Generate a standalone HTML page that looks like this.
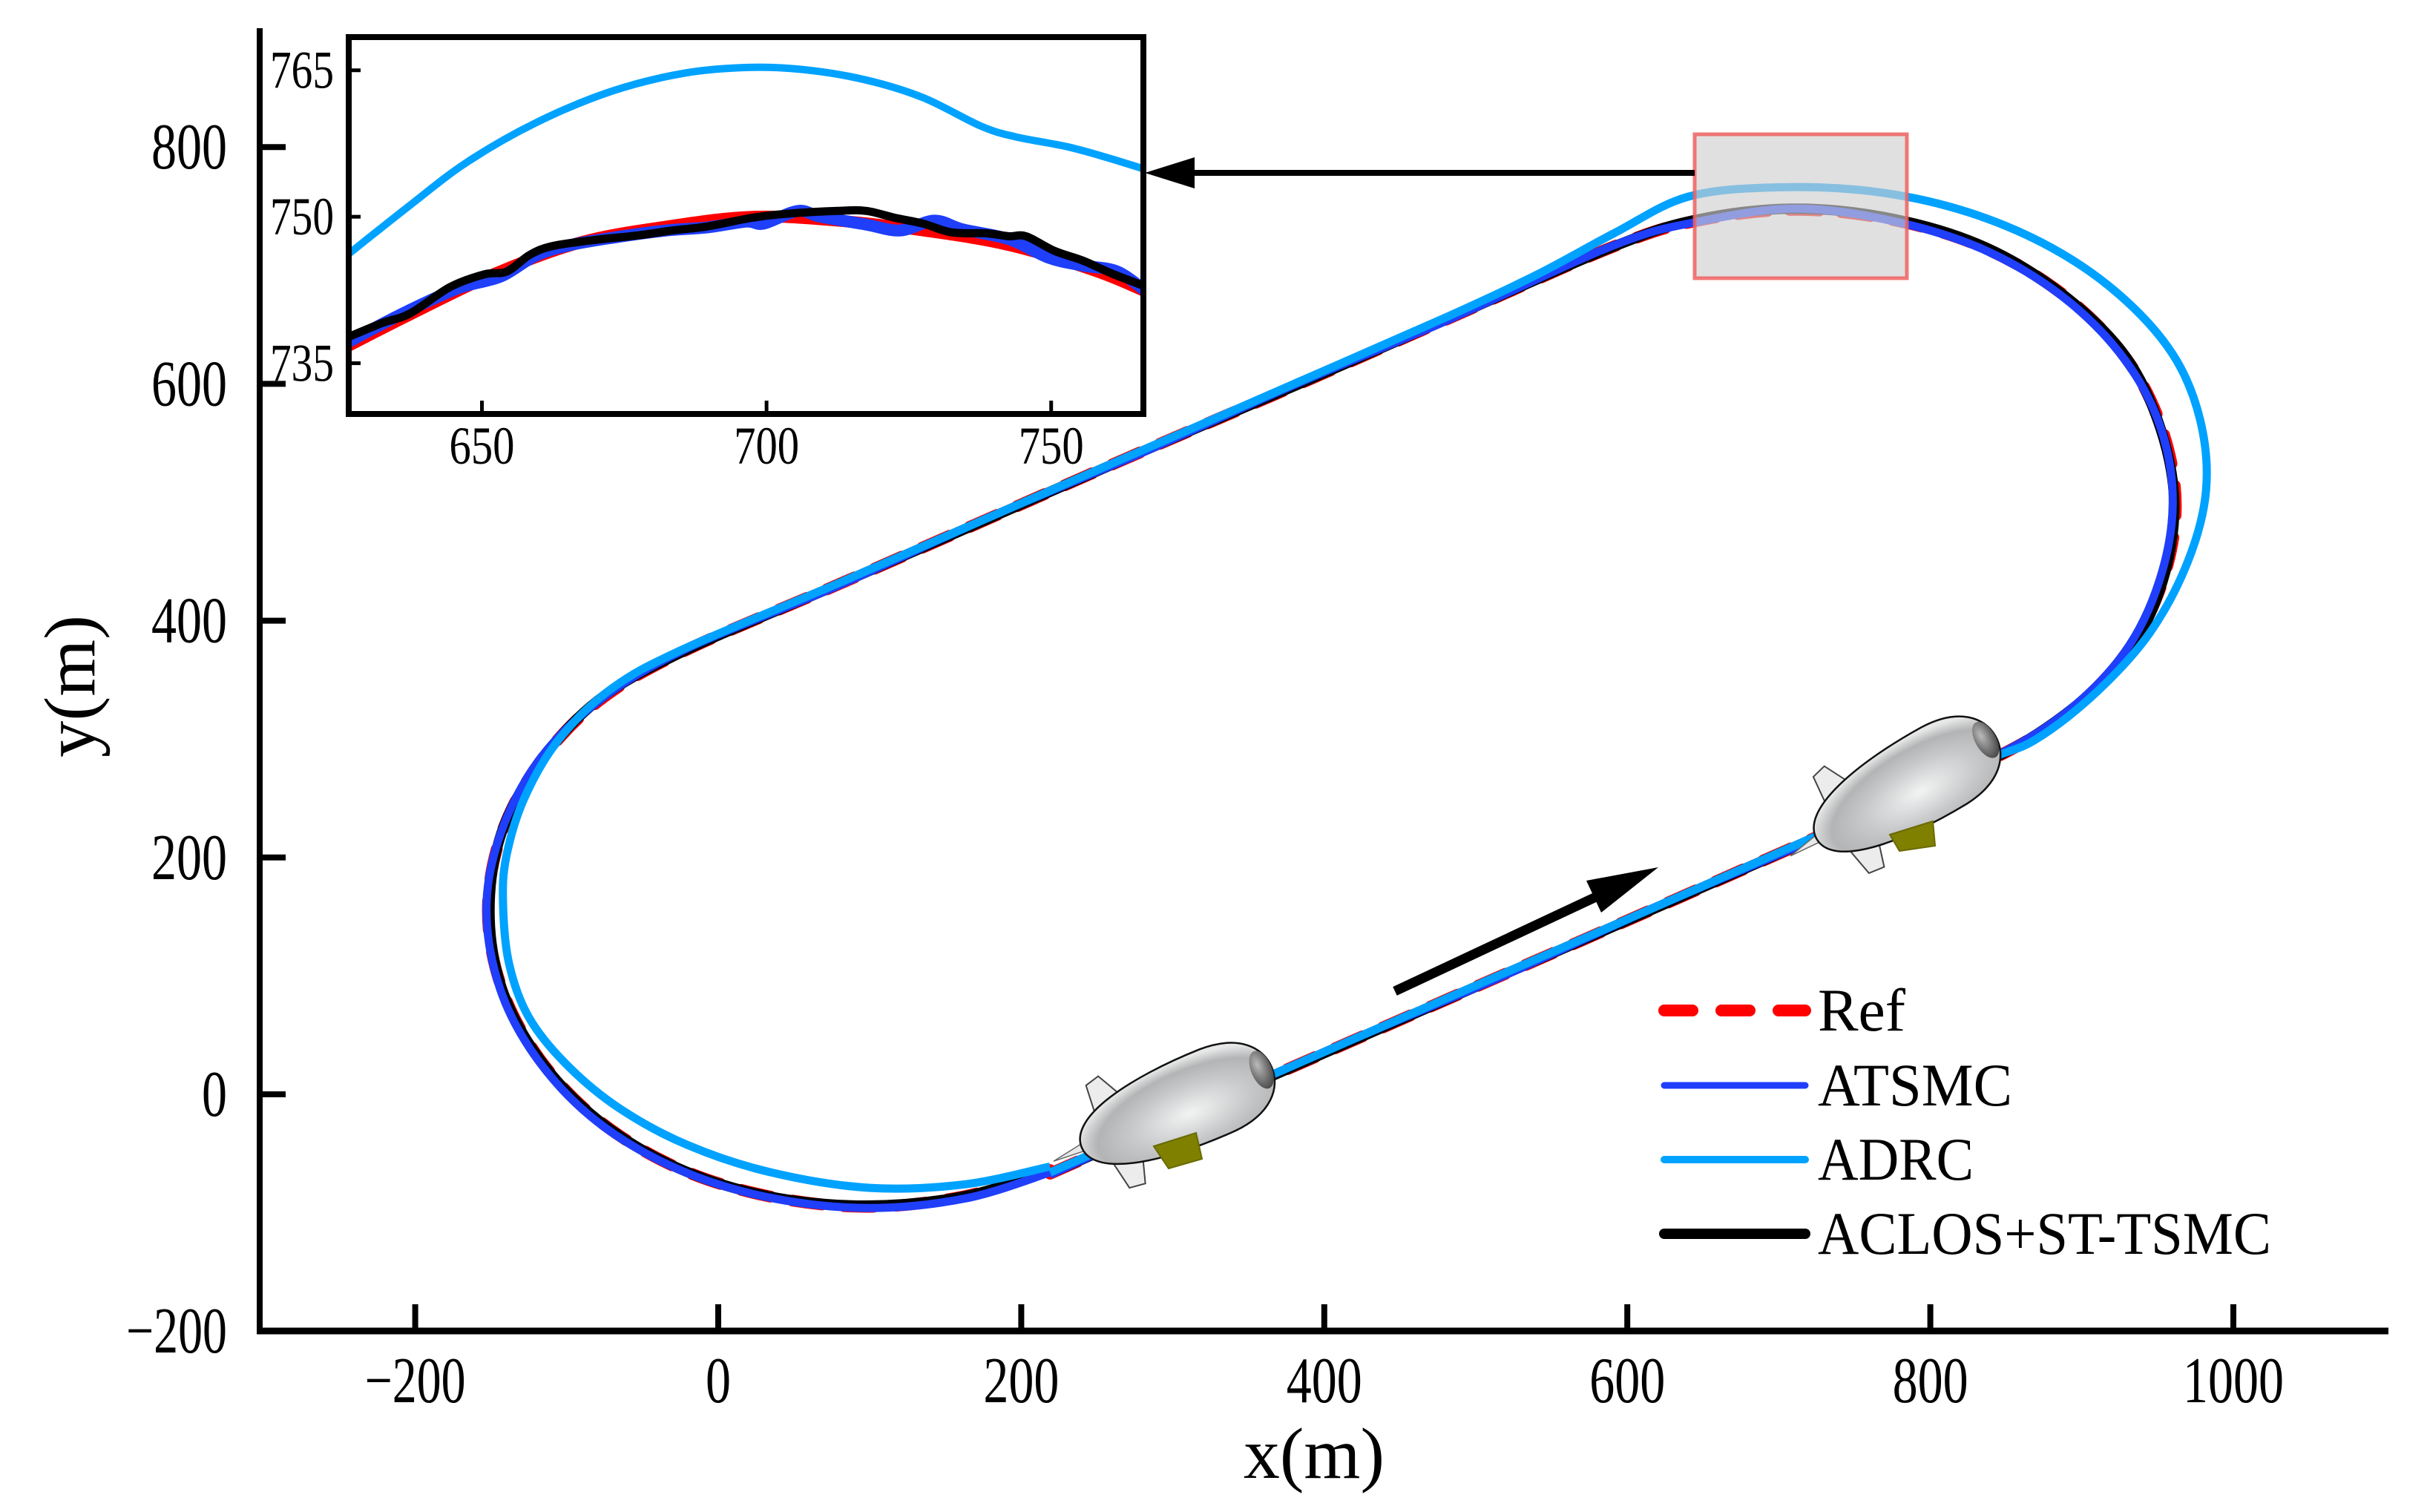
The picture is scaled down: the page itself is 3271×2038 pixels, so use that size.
<!DOCTYPE html>
<html><head><meta charset="utf-8"><style>
html,body{margin:0;padding:0;background:#fff}
svg{display:block}
text{font-family:"Liberation Serif",serif;fill:#000}
</style></head><body>
<svg id="chart" width="3271" height="2038" viewBox="0 0 3271 2038" xmlns="http://www.w3.org/2000/svg">
<defs>
<radialGradient id="bodyGrad" cx="0.55" cy="0.62" r="0.6">
<stop offset="0" stop-color="#f2f3f3"/><stop offset="0.5" stop-color="#c8c9ca"/><stop offset="0.8" stop-color="#b3b4b5"/><stop offset="1" stop-color="#e6e7e7"/>
</radialGradient>
<radialGradient id="noseGrad" cx="0.4" cy="0.35" r="0.7"><stop offset="0" stop-color="#bbb"/><stop offset="1" stop-color="#444"/></radialGradient>
<clipPath id="insetClip"><rect x="470" y="50" width="1071" height="508"/></clipPath>
<clipPath id="mainClip"><rect x="350" y="30" width="2880" height="1766"/></clipPath>
<g id="blimpBody">
<path d="M-105,-20 L-100,-75 L-80,-80 L-62,-45 Z" fill="#ececec" stroke="#444" stroke-width="2"/>
<path d="M-110,20 L-100,75 L-78,78 L-66,40 Z" fill="#ececec" stroke="#444" stroke-width="2"/>
<path d="M-180,2 L-118,-8 L-105,8 Z" fill="#e8e8e8" stroke="#666" stroke-width="1.5"/>
<path d="M-138,0 C-138,-45 -40,-62 60,-60 C115,-58 140,-30 140,0 C140,30 115,58 60,60 C-40,62 -138,45 -138,0 Z" fill="url(#bodyGrad)" stroke="#111" stroke-width="2.5"/>
<ellipse cx="126" cy="-2" rx="14" ry="27" fill="url(#noseGrad)"/>
</g>
</defs>
<g id="mainSeries" clip-path="url(#mainClip)"></g>
<g>
<use href="#blimpBody" transform="translate(1585,1493) rotate(-23)"/>
<path d="M1555,1545 L1612,1527 L1620,1562 L1575,1575 Z" fill="#808000" stroke="#6a6a00" stroke-width="2"/>
</g>
<g>
<use href="#blimpBody" transform="translate(2568,1062) rotate(-30)"/>
<path d="M2547,1125 L2605,1107 L2608,1140 L2560,1147 Z" fill="#808000" stroke="#6a6a00" stroke-width="2"/>
</g>
<rect x="2284" y="181" width="286" height="194" fill="#cfcfcf" fill-opacity="0.65" stroke="#f06060" stroke-opacity="0.85" stroke-width="5"/>
<g id="axes"></g>
<line x1="2284" y1="233" x2="1600" y2="233" stroke="#000" stroke-width="8"/>
<polygon points="1543,233 1610,212 1610,254" fill="#000"/>
<line x1="1880" y1="1336" x2="2170" y2="1200" stroke="#000" stroke-width="13"/>
<polygon points="2235,1169 2138,1187 2158,1230" fill="#000"/>
<g id="inset"></g>
<g id="legend">
<line x1="2243" y1="1362" x2="2433" y2="1362" stroke="#f00" stroke-width="16" stroke-linecap="round" stroke-dasharray="38 39"/>
<text x="2450" y="1389" font-size="82" textLength="118" lengthAdjust="spacingAndGlyphs">Ref</text>
<line x1="2243" y1="1463" x2="2433" y2="1463" stroke="#1f3ffb" stroke-width="9" stroke-linecap="round"/>
<text x="2450" y="1490" font-size="82" textLength="262" lengthAdjust="spacingAndGlyphs">ATSMC</text>
<line x1="2243" y1="1563" x2="2433" y2="1563" stroke="#00a2ff" stroke-width="10" stroke-linecap="round"/>
<text x="2450" y="1590" font-size="82" textLength="210" lengthAdjust="spacingAndGlyphs">ADRC</text>
<line x1="2243" y1="1663" x2="2433" y2="1663" stroke="#000" stroke-width="14" stroke-linecap="round"/>
<text x="2450" y="1690" font-size="82" textLength="611" lengthAdjust="spacingAndGlyphs">ACLOS+ST-TSMC</text>
</g>
</svg>
<script>
// ---- main chart data ----
const refX = [219,320,420,520,620,728,833,889,929,953,962,953,929,889,837,777,712,647,591,480,380,280,180,80,-23,-79,-118,-143,-152,-143,-118,-79,-27,33,98,163,219];
const refY = [-67,-10,46,102,158,219,278,320,372,432,497,562,622,674,714,738,747,738,716,654,598,543,487,431,374,332,280,220,155,90,30,-22,-62,-86,-95,-86,-64];
const atsmcX = [219,320,420,520,620,728,833,888,928,951,960,952,928,888,836,777,712,647,591,480,380,280,180,80,-23,-80,-119,-144,-153,-144,-119,-80,-27,33,98,163,219];
const atsmcY = [-68,-9,47,101,159,218,279,321,373,433,499,563,621,673,713,737,748,737,717,653,599,542,488,430,375,331,281,219,156,89,29,-23,-63,-87,-96,-88,-66];
const adrcX = [219,320,420,520,620,728,833,870,910,945,970,982,978,960,925,880,825,765,700,640,591,540,480,380,280,180,80,-23,-70,-105,-128,-140,-142,-138,-125,-100,-65,-20,35,100,163,219];
const adrcY = [-66,-9,47,103,159,220,280,300,340,390,450,510,570,625,675,715,745,762,766,758,727,692,656,600,544,488,432,376,343,300,250,200,160,110,65,25,-12,-43,-66,-79,-76,-61];
const aclosX = [219,320,420,520,620,728,833,889,930,953,961,952,929,889,837,777,712,647,591,480,380,280,180,80,-23,-79,-118,-143,-151,-143,-118,-79,-27,33,98,163,219];
const aclosY = [-67,-10,46,102,158,219,278,321,372,432,498,562,623,674,715,739,748,739,716,654,598,543,487,431,374,333,280,221,155,90,30,-22,-62,-86,-94,-86,-64];
const xTicks = [-200,0,200,400,600,800,1000];
const yTicks = [-200,0,200,400,600,800];
const xTickLabels = ["\u2212200","0","200","400","600","800","1000"];
const yTickLabels = ["\u2212200","0","200","400","600","800"];
// ---- inset data ----
const inRefX = [626.6,637.4,652.4,667.5,682.5,697.5,712.5,727.5,742.6,757.6,766.8];
const inRefY = [736.8,740.0,744.2,747.4,749.0,750.0,749.6,748.6,747.1,744.5,742.3];
const inAdrcX = [626.6,637.4,647.4,659.4,672.5,685.5,697.5,707.5,717.5,727.5,737.6,743.6,752.6,759.6,766.8];
const inAdrcY = [746.2,751.2,755.6,759.6,762.8,764.7,765.3,765.0,764.0,762.2,759.3,758.2,757.2,756.1,754.8];
const inAtsmcX = [626.6,633.4,640.4,646.4,653.4,659.4,665.5,673.5,682.5,689.5,696.5,699.5,705.5,709.5,717.5,723.5,729.5,734.5,742.6,749.6,755.6,761.6,766.8];
const inAtsmcY = [737.2,739.3,741.3,742.8,743.9,746.0,747.1,747.9,748.6,748.9,749.5,749.3,750.6,750.0,749.2,748.6,749.6,748.7,747.7,745.8,745.0,744.4,742.3];
const inAclosX = [626.6,632.4,637.4,644.4,650.4,654.4,658.4,662.4,669.5,677.5,683.5,689.5,697.5,703.5,712.5,717.5,722.5,727.5,732.5,738.6,742.6,745.6,750.6,755.6,760.6,766.8];
const inAclosY = [737.7,739.1,740.1,742.8,744.1,744.4,746.1,747.0,747.6,748.1,748.6,749.0,749.9,750.3,750.6,750.6,749.9,749.3,748.4,748.3,748.0,748.0,746.5,745.5,744.2,742.8];
const inXTicks = [650,700,750];
const inYTicks = [735,750,765];
const inXTickLabels = ["650","700","750"];
const inYTickLabels = ["735","750","765"];

const NS = "http://www.w3.org/2000/svg";
const X = x => 968 + 2.042 * x;
const Y = y => 1475 - 1.596 * y;
const IX = x => 470 + (x - 626.6) * (1071 / (766.2 - 626.6));
const IY = y => 50 + (768.4 - y) * (508 / (768.4 - 729.8));

function smoothPath(xs, ys, fx, fy) {
  const p = xs.map((x, i) => [fx(x), fy(ys[i])]);
  let d = "M" + p[0][0].toFixed(1) + "," + p[0][1].toFixed(1);
  for (let i = 0; i < p.length - 1; i++) {
    const p0 = p[Math.max(0, i - 1)], p1 = p[i], p2 = p[i + 1], p3 = p[Math.min(p.length - 1, i + 2)];
    const c1 = [p1[0] + (p2[0] - p0[0]) / 6, p1[1] + (p2[1] - p0[1]) / 6];
    const c2 = [p2[0] - (p3[0] - p1[0]) / 6, p2[1] - (p3[1] - p1[1]) / 6];
    d += " C" + c1[0].toFixed(1) + "," + c1[1].toFixed(1) + " " + c2[0].toFixed(1) + "," + c2[1].toFixed(1) + " " + p2[0].toFixed(1) + "," + p2[1].toFixed(1);
  }
  return d;
}
function mk(tag, parent, attrs) {
  const e = document.createElementNS(NS, tag);
  for (const k in attrs) e.setAttribute(k, attrs[k]);
  parent.appendChild(e);
  return e;
}
const ms = document.getElementById("mainSeries");
let e;
e = mk("path", ms, {d: smoothPath(refX, refY, X, Y), fill: "none", stroke: "#f00", "stroke-width": 16, "stroke-dasharray": "40 30", "stroke-linecap": "round"});


e = mk("path", ms, {d: smoothPath(aclosX, aclosY, X, Y), fill: "none", stroke: "#000", "stroke-width": 14});


e = mk("path", ms, {d: smoothPath(atsmcX, atsmcY, X, Y), fill: "none", stroke: "#1f3ffb", "stroke-width": 11});


e = mk("path", ms, {d: smoothPath(adrcX, adrcY, X, Y), fill: "none", stroke: "#00a2ff", "stroke-width": 11});



const ax = document.getElementById("axes");
e = mk("line", ax, {x1: 350, y1: 38, x2: 350, y2: 1798, stroke: "#000", "stroke-width": 8});


e = mk("line", ax, {x1: 346, y1: 1794, x2: 3219, y2: 1794, stroke: "#000", "stroke-width": 9});


xTicks.forEach((v, i) => {
  const t = mk("line", ax, {x1: X(v), y1: 1794, x2: X(v), y2: 1758, stroke: "#000", "stroke-width": 8});
  
  
  const lab = xTickLabels[i];
  const tx = mk("text", ax, {x: X(v), y: 1890, "font-size": 88, "text-anchor": "middle", textLength: lab.length * 34, lengthAdjust: "spacingAndGlyphs"});
  tx.textContent = lab;
  
  
});
yTicks.forEach((v, i) => {
  const t = mk("line", ax, {x1: 350, y1: Y(v), x2: 385, y2: Y(v), stroke: "#000", "stroke-width": 8});
  
  
  const lab = yTickLabels[i];
  const tx = mk("text", ax, {x: 306, y: Y(v) + 29, "font-size": 88, "text-anchor": "end", textLength: lab.length * 34, lengthAdjust: "spacingAndGlyphs"});
  tx.textContent = lab;
  
  
});
e = mk("text", ax, {x: 1771, y: 1992, "font-size": 98, "text-anchor": "middle", textLength: 190, lengthAdjust: "spacingAndGlyphs"});
e.textContent = "x(m)";


e = mk("text", ax, {x: 0, y: 0, "font-size": 98, "text-anchor": "middle", textLength: 192, lengthAdjust: "spacingAndGlyphs", transform: "translate(127,925) rotate(-90)"});
e.textContent = "y(m)";



const ins = document.getElementById("inset");
e = mk("rect", ins, {x: 470, y: 50, width: 1071, height: 508, fill: "#fff", stroke: "none"});


const ig = mk("g", ins, {"clip-path": "url(#insetClip)"});


e = mk("path", ig, {d: smoothPath(inRefX, inRefY, IX, IY), fill: "none", stroke: "#f00", "stroke-width": 16});


e = mk("path", ig, {d: smoothPath(inAtsmcX, inAtsmcY, IX, IY), fill: "none", stroke: "#1f3ffb", "stroke-width": 16, "stroke-linejoin": "round"});


e = mk("path", ig, {d: smoothPath(inAclosX, inAclosY, IX, IY), fill: "none", stroke: "#000", "stroke-width": 11});


e = mk("path", ig, {d: smoothPath(inAdrcX, inAdrcY, IX, IY), fill: "none", stroke: "#00a2ff", "stroke-width": 10});


e = mk("rect", ins, {x: 470, y: 50, width: 1071, height: 508, fill: "none", stroke: "#000", "stroke-width": 8});


inXTicks.forEach((v, i) => {
  const t = mk("line", ins, {x1: IX(v), y1: 558, x2: IX(v), y2: 540, stroke: "#000", "stroke-width": 5});
  
  
  const tx = mk("text", ins, {x: IX(v), y: 625, "font-size": 72, "text-anchor": "middle", textLength: 88, lengthAdjust: "spacingAndGlyphs"});
  tx.textContent = inXTickLabels[i];
  
  
});
inYTicks.forEach((v, i) => {
  const t = mk("line", ins, {x1: 470, y1: IY(v), x2: 486, y2: IY(v), stroke: "#000", "stroke-width": 5});
  
  
  const tx = mk("text", ins, {x: 450, y: IY(v) + 24, "font-size": 72, "text-anchor": "end", textLength: 86, lengthAdjust: "spacingAndGlyphs"});
  tx.textContent = inYTickLabels[i];
  
  
});
</script>
</body></html>
